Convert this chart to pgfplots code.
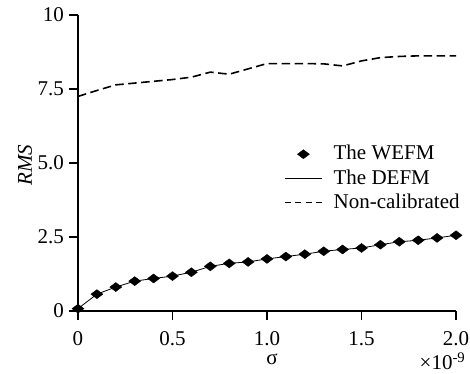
\documentclass[border=0pt]{standalone}
\usepackage{fontspec}
\setmainfont{Liberation Serif}
\usepackage{pgfplots}
\pgfplotsset{compat=1.18}
\begin{document}
\fontsize{21bp}{25bp}\selectfont
\begin{tikzpicture}
\begin{axis}[
  scale only axis,
  width=378bp, height=296bp,
  xmin=0, xmax=2, ymin=0, ymax=10,
  clip=false,
  axis x line=bottom, axis y line=left,
  axis line style={-, line width=1.1bp},
  tick align=outside,
  major tick length=9bp,
  tick style={line width=1.1bp, black},
  xtick={0,0.5,1,1.5,2},
  xticklabels={0,0.5,1.0,1.5,2.0},
  ytick={0,2.5,5,7.5,10},
  yticklabels={0,2.5,5.0,7.5,10},
  /pgf/number format/assume math mode=true,
  tick label style={font=\fontsize{21bp}{25bp}\selectfont},
  xticklabel style={yshift=-4bp},
  yticklabel style={xshift=2bp},
  xlabel={σ},
  ylabel={\textit{RMS}},
  every axis x label/.style={at={(axis description cs:0.513,-0.162)}, anchor=center, font=\fontsize{21bp}{25bp}\selectfont},
  every axis y label/.style={at={(axis description cs:-0.14,0.493)}, anchor=center, rotate=90, font=\fontsize{21bp}{25bp}\selectfont},
  legend image code/.code={\draw[mark repeat=2,mark phase=2,#1] plot coordinates {(0cm,0cm) (0.65cm,0cm) (1.3cm,0cm)};},
  legend style={draw=none, fill=none, at={(rel axis cs:0.545,0.567)}, anchor=north west,
    inner sep=0pt, row sep=2.5bp, column sep=9bp, font=\fontsize{21bp}{23bp}\selectfont, legend cell align=left},
]
\addplot[only marks, mark=diamond*, mark size=6bp, mark options={rotate=90, fill=black, draw=black}, black] coordinates {
(0,0.08) (0.1,0.57) (0.2,0.81) (0.3,1.01) (0.4,1.10) (0.5,1.18) (0.6,1.31) (0.7,1.51)
(0.8,1.61) (0.9,1.66) (1.0,1.76) (1.1,1.84) (1.2,1.92) (1.3,2.02) (1.4,2.08) (1.5,2.13)
(1.6,2.24) (1.7,2.34) (1.8,2.39) (1.9,2.47) (2.0,2.56)};
\addlegendentry{The WEFM}
\addplot[black, line width=0.8bp, no marks] coordinates {
(0,0.08) (0.1,0.57) (0.2,0.81) (0.3,1.01) (0.4,1.10) (0.5,1.18) (0.6,1.31) (0.7,1.51)
(0.8,1.61) (0.9,1.66) (1.0,1.76) (1.1,1.84) (1.2,1.92) (1.3,2.02) (1.4,2.08) (1.5,2.13)
(1.6,2.24) (1.7,2.34) (1.8,2.39) (1.9,2.47) (2.0,2.56)};
\addlegendentry{The DEFM}
\addplot[black, line width=1.6bp, dash pattern=on 8.5bp off 4.5bp, no marks,
  legend image post style={dash pattern=on 6bp off 4.3bp}] coordinates {
(0,7.25) (0.1,7.45) (0.2,7.64) (0.3,7.7) (0.4,7.76) (0.5,7.82) (0.6,7.9) (0.7,8.07)
(0.8,8.0) (0.9,8.18) (1.0,8.36) (1.1,8.36) (1.2,8.36) (1.3,8.35) (1.4,8.28) (1.5,8.45)
(1.6,8.56) (1.7,8.6) (1.8,8.62) (1.9,8.62) (2.0,8.62)};
\addlegendentry{Non-calibrated}
\node[anchor=north east, inner sep=0pt, font=\fontsize{21bp}{25bp}\selectfont] at (rel axis cs:1.025,-0.14) {×10\textsuperscript{-9}};
\coordinate (bbsw) at (rel axis cs:-0.2063,-0.2095);
\coordinate (bbne) at (rel axis cs:1.037,1.0507);
\end{axis}
\pgfresetboundingbox
\path[use as bounding box] (bbsw) rectangle (bbne);
\end{tikzpicture}
\end{document}
